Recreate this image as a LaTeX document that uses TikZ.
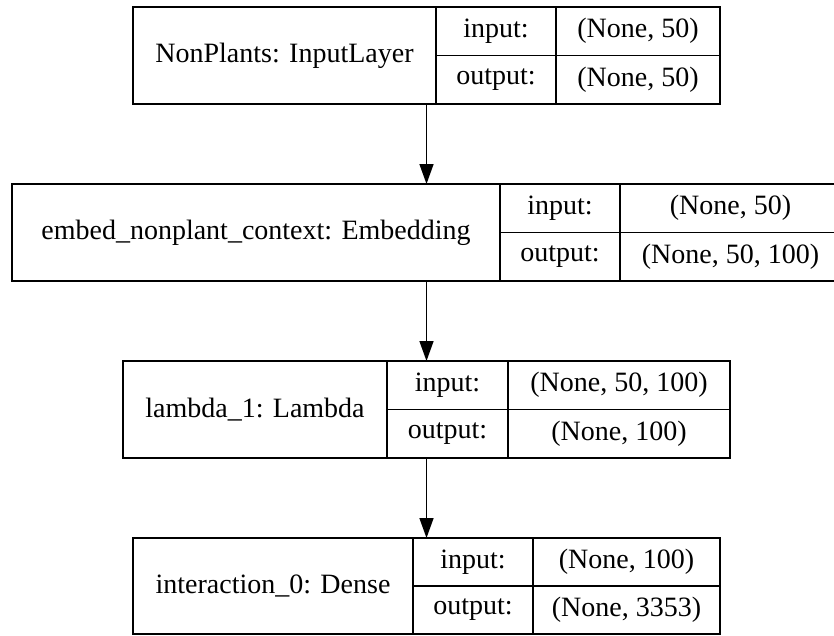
\documentclass[tikz,border=0pt]{standalone}
\usepackage{fontspec}
\setmainfont{Liberation Serif}
\usetikzlibrary{arrows.meta}
\begin{document}
\begin{tikzpicture}[x=0.75pt,y=-0.75pt,
  cell/.style n args={2}{draw, line width=1.1pt, rectangle, inner sep=0pt, outer sep=0pt,
    minimum width=#1*0.75pt, minimum height=#2*0.75pt, font=\fontsize{21}{25}\selectfont},
  whole/.style n args={2}{rectangle, inner sep=0pt, outer sep=0pt,
    minimum width=#1*0.75pt, minimum height=#2*0.75pt},
  flow/.style={line width=1.1pt, -{Triangle[length=15pt,width=10.5pt]}}]
\useasboundingbox (0,0) rectangle (834,635);
\clip (0,0) rectangle (834,635);
% layer 1
\node[whole={587}{97}] (L1) at (426.5,55.5) {};
\node[cell={303}{97}] (L1n) at (284.5,55.5) {NonPlants: InputLayer};
\node[cell={120}{48.5}] (L1il) at (496,31.25) {input:};
\node[cell={120}{48.5}] (L1ol) at (496,79.75) {output:};
\node[cell={164}{48.5}] (L1iv) at (638,31.25) {(None, 50)};
\node[cell={164}{48.5}] (L1ov) at (638,79.75) {(None, 50)};
% layer 2
\node[whole={829}{97}] (L2) at (426.5,232.5) {};
\node[cell={488}{97}] (L2n) at (256,232.5) {embed\_nonplant\_context: Embedding};
\node[cell={120}{48.5}] (L2il) at (560,208.25) {input:};
\node[cell={120}{48.5}] (L2ol) at (560,256.75) {output:};
\node[cell={221}{48.5}] (L2iv) at (730.5,208.25) {(None, 50)};
\node[cell={221}{48.5}] (L2ov) at (730.5,256.75) {(None, 50, 100)};
% layer 3
\node[whole={607}{97}] (L3) at (426.5,409.5) {};
\node[cell={264}{97}] (L3n) at (255,409.5) {lambda\_1: Lambda};
\node[cell={121}{48.5}] (L3il) at (447.5,385.25) {input:};
\node[cell={121}{48.5}] (L3ol) at (447.5,433.75) {output:};
\node[cell={222}{48.5}] (L3iv) at (619,385.25) {(None, 50, 100)};
\node[cell={222}{48.5}] (L3ov) at (619,433.75) {(None, 100)};
% layer 4
\node[whole={587}{96}] (L4) at (426.5,586) {};
\node[cell={280}{96}] (L4n) at (273,586) {interaction\_0: Dense};
\node[cell={120}{48}] (L4il) at (473,562) {input:};
\node[cell={120}{48}] (L4ol) at (473,610) {output:};
\node[cell={187}{48}] (L4iv) at (626.5,562) {(None, 100)};
\node[cell={187}{48}] (L4ov) at (626.5,610) {(None, 3353)};
% connectors
\draw[flow] (L1.south) -- (L2.north);
\draw[flow] (L2.south) -- (L3.north);
\draw[flow] (L3.south) -- (L4.north);
\end{tikzpicture}
\end{document}
